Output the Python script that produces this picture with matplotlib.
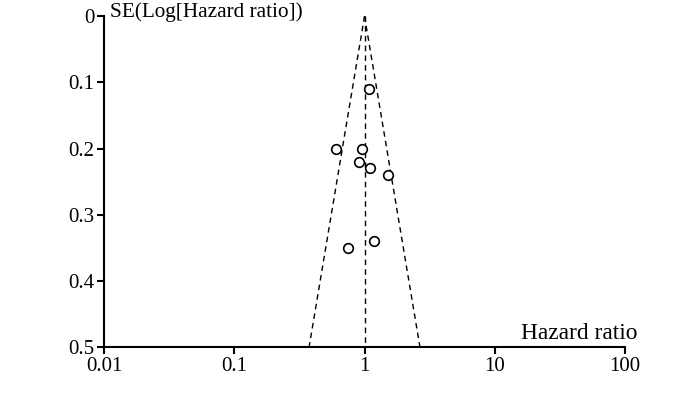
import numpy as np
import matplotlib.pyplot as plt

plt.rcParams['font.family'] = ['Liberation Serif', 'DejaVu Serif']

# study estimates
hazard_ratio = [1.09, 0.60, 0.95, 0.90, 1.11, 1.52, 0.75, 1.19]
se_log_hr = [0.11, 0.20, 0.20, 0.22, 0.23, 0.24, 0.35, 0.34]
pooled_hr = 1.0

fig = plt.figure(figsize=(7, 3.94), dpi=100)
ax = fig.add_axes([0.1486, 0.119, 0.7443, 0.840])

# pseudo 95% confidence limits
se_range = np.array([0.0, 0.5])
lower = pooled_hr * np.exp(-1.96 * se_range)
upper = pooled_hr * np.exp(1.96 * se_range)
ax.plot(lower, se_range, color="black", ls=(0, (4, 3)), lw=1)
ax.plot(upper, se_range, color="black", ls=(0, (4, 3)), lw=1)
ax.plot([pooled_hr, pooled_hr], se_range, color="black", ls=(0, (4, 3)), lw=1)

ax.scatter(hazard_ratio, se_log_hr, s=48, facecolors="white",
           edgecolors="black", linewidths=1.2, zorder=3)

ax.set_xscale("log")
ax.set_xlim(0.01, 100)
ax.set_ylim(0.5, 0)
ax.set_xticks([0.01, 0.1, 1, 10, 100])
ax.set_xticklabels(["0.01", "0.1", "1", "10", "100"])
ax.set_yticks([0, 0.1, 0.2, 0.3, 0.4, 0.5])
ax.set_yticklabels(["0", "0.1", "0.2", "0.3", "0.4", "0.5"])
ax.minorticks_off()

for s in ["top", "right"]:
    ax.spines[s].set_visible(False)
for s in ["left", "bottom"]:
    ax.spines[s].set_linewidth(1.5)
ax.tick_params(direction="out", length=5, width=1.5, labelsize=15, pad=2)

ax.text(0.0111, 0.002, "SE(Log[Hazard ratio])", fontsize=15.3,
        va="baseline", ha="left")
ax.text(1.023, 0.024, "Hazard ratio", transform=ax.transAxes,
        fontsize=16.8, ha="right", va="baseline")

fig.savefig("out.png", dpi=100)
